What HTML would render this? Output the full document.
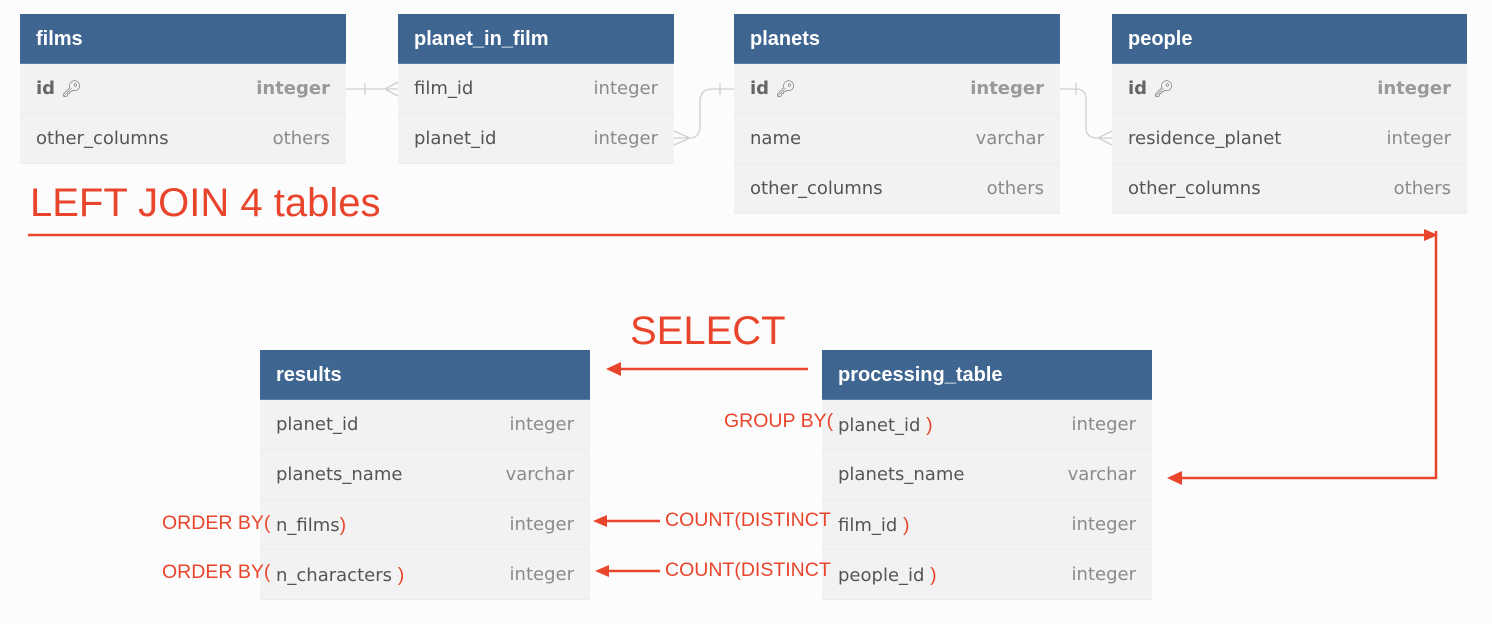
<!DOCTYPE html>
<html><head><meta charset="utf-8"><style>
*{margin:0;padding:0;box-sizing:border-box}
body{width:1492px;height:624px;background:#fcfcfc;position:relative;overflow:hidden;font-family:"Liberation Sans","DejaVu Sans",sans-serif}
.t{position:absolute;background:#f2f2f2}
.h{height:50px;background:#3f6690;color:#fff;font-weight:bold;font-size:20px;line-height:50px;padding-left:16px;border-bottom:1px solid #5b7fa8}
.r{height:50px;line-height:50px;font-size:18px;color:#555;padding:0 16px;position:relative;border-bottom:1px solid #ececec;font-family:"DejaVu Sans",sans-serif}
.r .ty{position:absolute;right:16px;top:0;color:#8a8a8a}
.r.b{font-weight:bold;color:#666}
.r.b .ty{color:#999}
.red{position:absolute;color:#e8452c;white-space:nowrap;font-family:"Liberation Sans",sans-serif}
.lbl{font-size:19.5px}
</style></head><body>

<div class="t" style="left:20px;top:14px;width:326px">
<div class="h">films</div>
<div class="r b">id <span style="font-weight:normal;font-size:16px">&#x1F511;&#xFE0E;</span><span class="ty">integer</span></div>
<div class="r">other_columns<span class="ty">others</span></div>
</div>

<div class="t" style="left:398px;top:14px;width:276px">
<div class="h">planet_in_film</div>
<div class="r">film_id<span class="ty">integer</span></div>
<div class="r">planet_id<span class="ty">integer</span></div>
</div>

<div class="t" style="left:734px;top:14px;width:326px">
<div class="h">planets</div>
<div class="r b">id <span style="font-weight:normal;font-size:16px">&#x1F511;&#xFE0E;</span><span class="ty">integer</span></div>
<div class="r">name<span class="ty">varchar</span></div>
<div class="r">other_columns<span class="ty">others</span></div>
</div>

<div class="t" style="left:1112px;top:14px;width:355px">
<div class="h">people</div>
<div class="r b">id <span style="font-weight:normal;font-size:16px">&#x1F511;&#xFE0E;</span><span class="ty">integer</span></div>
<div class="r">residence_planet<span class="ty">integer</span></div>
<div class="r">other_columns<span class="ty">others</span></div>
</div>

<div class="t" style="left:260px;top:350px;width:330px">
<div class="h">results</div>
<div class="r">planet_id<span class="ty">integer</span></div>
<div class="r">planets_name<span class="ty">varchar</span></div>
<div class="r">n_films<span class="red lbl" style="position:static">)</span><span class="ty">integer</span></div>
<div class="r">n_characters <span class="red lbl" style="position:static">)</span><span class="ty">integer</span></div>
</div>

<div class="t" style="left:822px;top:350px;width:330px">
<div class="h">processing_table</div>
<div class="r">planet_id <span class="red lbl" style="position:static">)</span><span class="ty">integer</span></div>
<div class="r">planets_name<span class="ty">varchar</span></div>
<div class="r">film_id <span class="red lbl" style="position:static">)</span><span class="ty">integer</span></div>
<div class="r">people_id <span class="red lbl" style="position:static">)</span><span class="ty">integer</span></div>
</div>

<svg width="1492" height="624" style="position:absolute;left:0;top:0" fill="none">
<g stroke="#cfcfcf" stroke-width="1.3">
<path d="M346 89 H398 M365 83 V95 M398 82 L385 89 L398 96"/>
<path d="M674 138 H690 Q700 138 700 125 V102 Q700 89 712 89 H734 M720 83 V95 M674 131 L690 138 L674 145"/>
<path d="M1060 89 H1076 Q1086 89 1086 100 V128 Q1086 138 1098 138 H1112 M1076 83 V95 M1112 131 L1098 138 L1112 145"/>
</g>
<g stroke="#e8452c" stroke-width="2.5" fill="none">
<path d="M28 235 H1426"/>
<path d="M1436 231 V478 H1180"/>
<path d="M808 369 H620"/>
<path d="M660 521 H606"/>
<path d="M660 571 H608"/>
</g>
<g fill="#e8452c">
<path d="M1438 235 L1424 229 L1424 241 Z"/>
<path d="M1167 478 L1182 471 L1182 485 Z"/>
<path d="M606 369 L621 362 L621 376 Z"/>
<path d="M593 521 L607 515 L607 527 Z"/>
<path d="M595 571 L609 565 L609 577 Z"/>
</g>
</svg>

<div class="red" style="left:30px;top:181px;font-size:40px">LEFT JOIN 4 tables</div>
<div class="red" style="left:630px;top:309px;font-size:40px">SELECT</div>
<div class="red lbl" style="left:724px;top:410px">GROUP BY(</div>
<div class="red lbl" style="left:665px;top:509px">COUNT(DISTINCT</div>
<div class="red lbl" style="left:665px;top:559px">COUNT(DISTINCT</div>
<div class="red lbl" style="left:162px;top:512px">ORDER BY(</div>
<div class="red lbl" style="left:162px;top:561px">ORDER BY(</div>
</body></html>
